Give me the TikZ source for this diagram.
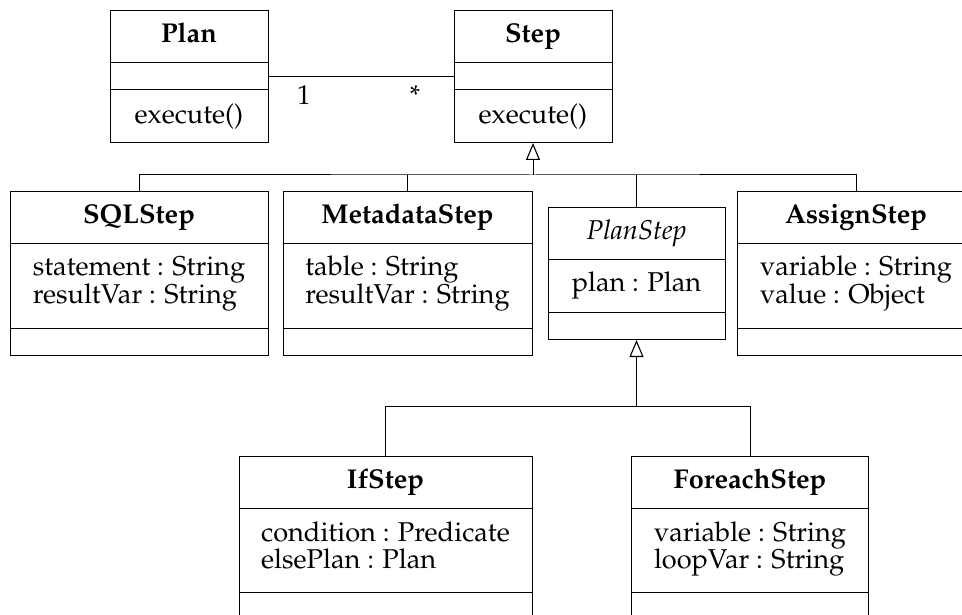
\documentclass[tikz,border=0pt]{standalone}
\usepackage[T1]{fontenc}
\usepackage{mathpazo}
\usetikzlibrary{calc,arrows.meta}

\newcommand{\dfont}{\fontsize{27.2}{26.7}\selectfont}

% class box: name, left x, top y, width, heights of the three compartments
\newcommand{\umlbox}[7]{%
  \node[classbox, minimum width=#4pt, minimum height={(#5+#6+#7)*1pt},
        anchor=north west] (#1) at (#2,#3) {};
  \draw[sepline] ($(#1.north west)+(0,#5)$) -- ++(#4,0);
  \draw[sepline] ($(#1.north west)+(0,#5+#6)$) -- ++(#4,0);
}

\begin{document}
\begin{tikzpicture}[x=1pt,y=-1pt,
  classbox/.style={draw, rectangle, inner sep=0pt, line width=1pt},
  sepline/.style={line width=1pt},
  txt/.style={anchor=base, inner sep=0pt, font=\dfont},
  ttl/.style={txt, font=\dfont\bfseries},
  conn/.style={line width=1pt},
  gen/.style={conn, -{Triangle[open, length=17pt, width=14pt, line width=1.1pt]}}]

\useasboundingbox (0,0) rectangle (962,615);
\clip (0,0) rectangle (962,615);

% ---- top row
\umlbox{plan}{109.5}{10.5}{158}{52}{27.5}{52}
\node[ttl] (plan-t) at ($(plan.north)+(0,32)$) {Plan};
\node[txt] (plan-o) at ($(plan.north)+(0,112.6)$) {execute()};

\umlbox{step}{453.5}{10.5}{158}{52}{27.5}{52}
\node[ttl] (step-t) at ($(step.north)+(0,32)$) {Step};
\node[txt] (step-o) at ($(step.north)+(0,112.6)$) {execute()};

% association Plan -- Step
\coordinate (planr) at ($(plan.north east)+(0,66)$);
\coordinate (stepl) at ($(step.north west)+(0,66)$);
\draw[conn] (planr) -- (stepl);
\node[txt] (mult1) at (304,105) {1};
\node[txt] (mult2) at (415,105) {*};

% ---- middle row
\umlbox{sql}{9.5}{191.5}{258}{52}{85}{26}
\node[ttl] (sql-t) at ($(sql.north)+(0,32)$) {SQLStep};
\node[txt] (sql-a) at ($(sql.north)+(0,84.4)$)
  {\begin{tabular}[t]{@{}l@{}}statement : String\\ resultVar : String\end{tabular}};

\umlbox{meta}{282.5}{191.5}{249}{52}{85}{26}
\node[ttl] (meta-t) at ($(meta.north)+(0,32)$) {MetadataStep};
\node[txt] (meta-a) at ($(meta.north)+(0,84.4)$)
  {\begin{tabular}[t]{@{}l@{}}table : String\\ resultVar : String\end{tabular}};

\umlbox{pstep}{547.5}{207.5}{177}{52}{53}{26.5}
\node[txt, font=\dfont\itshape] (pstep-t) at ($(pstep.north)+(0,32)$) {PlanStep};
\node[txt] (pstep-a) at ($(pstep.north)+(0,84.4)$) {plan : Plan};

\umlbox{assign}{736.5}{191.5}{238}{52}{85}{26}
\node[ttl] (assign-t) at ($(assign.north)+(0,32)$) {AssignStep};
\node[txt] (assign-a) at ($(assign.north)+(0,84.4)$)
  {\begin{tabular}[t]{@{}l@{}}variable : String\\ value : Object\end{tabular}};

% ---- bottom row
\umlbox{ifs}{238.5}{456}{293}{52.5}{84}{26}
\node[ttl] (ifs-t) at ($(ifs.north)+(0,32)$) {IfStep};
\node[txt] (ifs-a) at ($(ifs.north)+(0,85.3)$)
  {\begin{tabular}[t]{@{}l@{}}condition : Predicate\\ elsePlan : Plan\end{tabular}};

\umlbox{fe}{631}{456}{237}{52.5}{84}{26}
\node[ttl] (fe-t) at ($(fe.north)+(0,32)$) {ForeachStep};
\node[txt] (fe-a) at ($(fe.north)+(0,85.3)$)
  {\begin{tabular}[t]{@{}l@{}}variable : String\\ loopVar : String\end{tabular}};

% ---- generalisations to Step
\coordinate (hubA) at ($(step.south)+(0,32)$);
\draw[gen] (hubA) -- (step.south);
\draw[conn] (sql.north) |- (hubA) -| (assign.north);
\draw[conn] (meta.north) -- (meta.north |- hubA);
\draw[conn] (pstep.north) -- (pstep.north |- hubA);

% ---- generalisations to PlanStep
\coordinate (hubB) at ($(pstep.south)+(0,66.5)$);
\draw[gen] (hubB) -- (pstep.south);
\draw[conn] (ifs.north) |- (hubB) -| (fe.north);

\end{tikzpicture}
\end{document}
